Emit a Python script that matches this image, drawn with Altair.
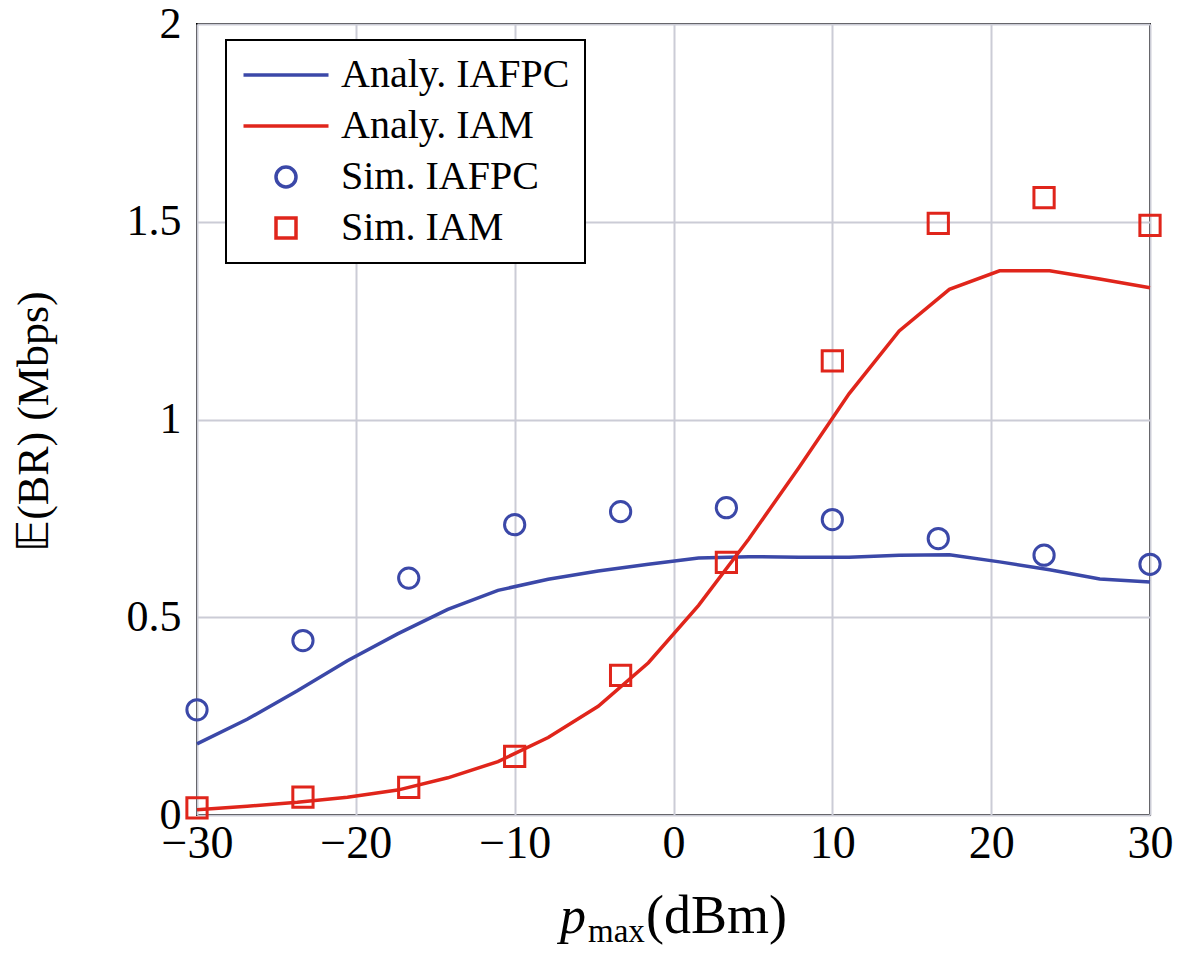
import altair as alt
import pandas as pd

# ---------------- data ----------------
x_analy = [-30, -26.84, -23.68, -20.53, -17.37, -14.21, -11.05, -7.89, -4.74, -1.58,
           1.58, 4.74, 7.89, 11.05, 14.21, 17.37, 20.53, 23.68, 26.84, 30]
analy_iafpc = [0.180, 0.242, 0.314, 0.390, 0.458, 0.520, 0.568, 0.596, 0.617, 0.634,
               0.650, 0.653, 0.652, 0.652, 0.657, 0.658, 0.640, 0.620, 0.597, 0.589]
analy_iam = [0.013, 0.022, 0.032, 0.045, 0.063, 0.094, 0.135, 0.196, 0.275, 0.385,
             0.530, 0.698, 0.878, 1.065, 1.224, 1.329, 1.376, 1.376, 1.355, 1.333]

x_sim = [-30, -23.33, -16.67, -10, -3.33, 3.33, 10, 16.67, 23.33, 30]
sim_iafpc = [0.266, 0.441, 0.599, 0.734, 0.767, 0.777, 0.747, 0.699, 0.657, 0.634]
sim_iam = [0.018, 0.045, 0.070, 0.148, 0.353, 0.639, 1.148, 1.496, 1.561, 1.491]

series_names = ["Analy. IAFPC", "Analy. IAM", "Sim. IAFPC", "Sim. IAM"]
series_colors = ["#3b48a8", "#e0251b", "#3b48a8", "#e0251b"]

x_ticks = [-30, -20, -10, 0, 10, 20, 30]
y_ticks = [0, 0.5, 1, 1.5, 2]

x_title_parts = ["p", "max", "(dBm)"]
y_title = "𝔼(BR) (Mbps)"

# ---------------- tables ----------------
n_a = len(x_analy)
n_s = len(x_sim)
lines_df = pd.DataFrame({
    "x": x_analy + x_analy,
    "y": analy_iafpc + analy_iam,
    "series": [series_names[0]] * n_a + [series_names[1]] * n_a,
})
sim_df = pd.DataFrame({
    "x": x_sim + x_sim,
    "y": sim_iafpc + sim_iam,
    "series": [series_names[2]] * n_s + [series_names[3]] * n_s,
})

FONT = "Liberation Serif"
LINE_PATH = "M-4.25,0H4.25"

legend = alt.Legend(
    title=None, orient="none", legendX=29, legendY=16,
    fillColor="white", strokeColor="black",
    padding=15, rowPadding=11, cornerRadius=0,
    labelFont=FONT, labelFontSize=40, labelColor="black", labelLimit=500,
    symbolSize=400, symbolStrokeWidth=3.5, symbolOffset=25, labelOffset=35,
)

color = alt.Color("series:N",
                  scale=alt.Scale(domain=series_names, range=series_colors),
                  legend=legend)
shape = alt.Shape("series:N",
                  scale=alt.Scale(domain=series_names,
                                  range=[LINE_PATH, LINE_PATH, "circle", "square"]),
                  legend=legend)

xenc = alt.X("x:Q", scale=alt.Scale(domain=[-30, 30], nice=False, zero=False),
             axis=alt.Axis(values=x_ticks, title=None, labelFlush=False,
                           labelOverlap=False, labelPadding=6))
yenc = alt.Y("y:Q", scale=alt.Scale(domain=[0, 2], nice=False),
             axis=alt.Axis(values=y_ticks, format="~g", title=y_title,
                           labelPadding=16, labelFontSize=44,
                           titleX=-163, titleY=397,
                           titleAlign="center", titleBaseline="middle",
                           titleFontSize=44, titleFont=FONT,
                           titleFontWeight="normal"))

lines = alt.Chart(lines_df).mark_line(strokeWidth=3.5).encode(
    x=xenc, y=yenc, color=color
)
points = alt.Chart(sim_df).mark_point(filled=False, strokeWidth=3, size=410,
                                      opacity=1).encode(
    x=xenc, y=yenc, color=color, shape=shape
)

t_p = alt.Chart(pd.DataFrame({"t": [x_title_parts[0]]})).mark_text(
    font=FONT, fontSize=52, fontStyle="italic", align="left",
    baseline="alphabetic", color="black").encode(
    text="t:N", x=alt.value(363), y=alt.value(909))
t_max = alt.Chart(pd.DataFrame({"t": [x_title_parts[1]]})).mark_text(
    font=FONT, fontSize=33, align="left", baseline="alphabetic",
    color="black").encode(text="t:N", x=alt.value(391), y=alt.value(918))
t_unit = alt.Chart(pd.DataFrame({"t": [x_title_parts[2]]})).mark_text(
    font=FONT, fontSize=54, align="left", baseline="alphabetic",
    color="black").encode(text="t:N", x=alt.value(449), y=alt.value(909))

chart = alt.layer(lines, points, t_p, t_max, t_unit).properties(
    width=953, height=791,
    padding={"left": 189, "top": 16, "right": 23, "bottom": 133},
    autosize=alt.AutoSizeParams(type="none"),
    background="white",
).configure_view(
    stroke="black", strokeWidth=2
).configure_axis(
    domain=False, ticks=False,
    grid=True, gridColor="#cbccd6", gridWidth=2,
    labelFont=FONT, labelFontSize=46, labelColor="black",
).configure_legend(
    strokeWidth=2
)

chart.save("out.html", embed_options={"renderer": "svg", "actions": False})
